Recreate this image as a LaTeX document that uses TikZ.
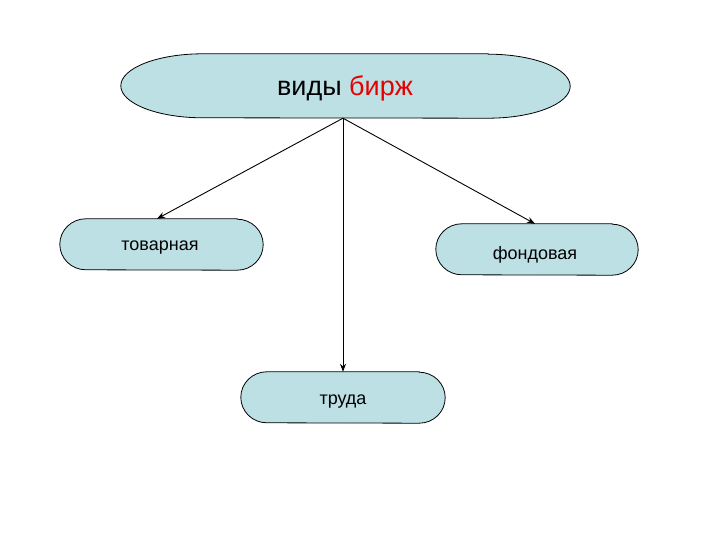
\documentclass[tikz,border=0pt]{standalone}
\usepackage{fontspec}
\setmainfont{Liberation Sans}
\usetikzlibrary{arrows.meta}
\definecolor{boxfill}{RGB}{189,224,229}
\definecolor{redtext}{RGB}{230,0,0}
\newcommand{\pillbox}[2]{%
  \draw[boxline] ([xshift=-#2]#1.north east) -- ([xshift=#2]#1.north west)
    arc[start angle=90,end angle=270,x radius=#2,y radius={0.5*\pgfkeysvalueof{/tikz/pillh}}]
    -- ([xshift=-#2]#1.south east)
    arc[start angle=-90,end angle=90,x radius=#2,y radius={0.5*\pgfkeysvalueof{/tikz/pillh}}]
    -- cycle;}
\tikzset{
  pillh/.initial=51pt,
  boxline/.style={draw=black, line width=0.8pt, fill=boxfill},
  lbl/.style={draw=none, inner sep=0pt, minimum height=51pt, font=\fontsize{18}{20}\selectfont},
  conn/.style={line width=0.9pt, -{Stealth[length=8pt,width=6pt]}}
}
\begin{document}
\begin{tikzpicture}[x=1pt,y=1pt]
\useasboundingbox (0,0) rectangle (720,540);
% nodes
\node[lbl, minimum width=449pt, minimum height=64pt, font=\fontsize{27}{30}\selectfont] (top) at (345.5,454) {\phantom{виды бирж}};
\node[lbl, minimum width=203pt] (left) at (161.5,295.5) {\phantom{товарная}};
\node[lbl, minimum width=202pt] (right) at (537,290.5) {\phantom{фондовая}};
\node[lbl, minimum width=204pt] (bottom) at (343,142.5) {\phantom{труда}};
% shapes
\tikzset{pillh=64pt}
\pillbox{top}{82pt}
\tikzset{pillh=51pt}
\pillbox{left}{26pt}
\pillbox{right}{26pt}
\pillbox{bottom}{26pt}
% texts
\node[font=\fontsize{27}{30}\selectfont, inner sep=0pt] (toptext) at (345,452) {виды \textcolor{redtext}{бирж}};
\node[font=\fontsize{18}{20}\selectfont, inner sep=0pt] (lefttext) at (160,292) {товарная};
\node[font=\fontsize{18}{20}\selectfont, inner sep=0pt] (righttext) at (535,285) {фондовая};
\node[font=\fontsize{18}{20}\selectfont, inner sep=0pt] (bottomtext) at (343,138.5) {труда};
% connectors
\coordinate (hub) at ([xshift=-2.5pt]top.south);
\draw[conn] (hub) -- ([xshift=-4.5pt]left.north);
\draw[conn] (hub) -- ([xshift=-2pt]right.north);
\draw[conn] (hub) -- (bottom.north);
\end{tikzpicture}
\end{document}
